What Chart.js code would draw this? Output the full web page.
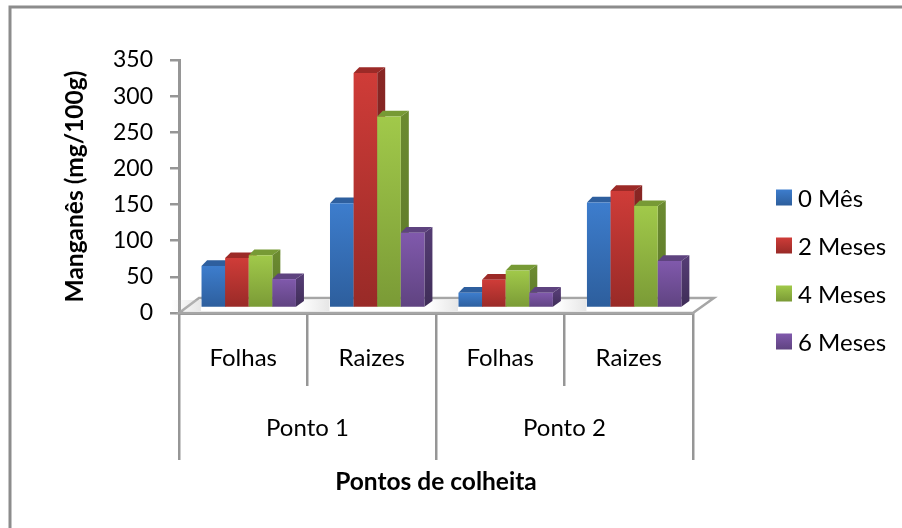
<!DOCTYPE html>
<html><head><meta charset="utf-8">
<style>html,body{margin:0;padding:0;background:#fff}#w{width:902px;height:528px;position:relative}canvas{display:block}</style>
<script src="https://cdn.jsdelivr.net/npm/chart.js@4"></script>
</head><body><div id="w"><canvas id="c" width="902" height="528"></canvas></div>
<script>
const categories = ['Folhas','Raizes','Folhas','Raizes'];
const groups = ['Ponto 1','Ponto 2'];
const yTicks = [0,50,100,150,200,250,300,350];
const seriesNames = ['0 Mês','2 Meses','4 Meses','6 Meses'];
const mes0 = [58,145,21,146];
const mes2 = [69,325,39,162];
const mes4 = [73,265,52,141];
const mes6 = [40,104,21,65];
const palette = [
 {hi:'#3D7DCD',lo:'#2D5E9C',top:'#2E5F9E',sideHi:'#2A5688',sideLo:'#234870'},
 {hi:'#CF3C38',lo:'#982A27',top:'#9C2A27',sideHi:'#882624',sideLo:'#76201E'},
 {hi:'#A1C94A',lo:'#7A9A36',top:'#779A35',sideHi:'#6B8A30',sideLo:'#5C772A'},
 {hi:'#8059AC',lo:'#5F4380',top:'#5E437F',sideHi:'#533B72',sideLo:'#3F2D58'}
];
const FONT='Lato, "Noto Sans", sans-serif', GRAY='#969696';
const ctx0=document.getElementById('c').getContext('2d');
function vgrad(c,y0,y1,a,b){const g=c.createLinearGradient(0,y0,0,y1);g.addColorStop(0,a);g.addColorStop(1,b);return g;}
const LEG_DY=-7, LEG_X=776, LEG_PAD=24;
const scene={
 id:'scene',
 afterLayout(chart){
  const l=chart.legend; if(l){l.top+=LEG_DY;l.bottom+=LEG_DY;l.left=LEG_X-LEG_PAD;l.right=902;l.width=902-l.left;}
 },
 beforeDraw(chart){
  const c=chart.ctx;
  c.save();c.fillStyle='#fff';c.fillRect(0,0,902,528);
  c.strokeStyle='#8c8c8c';c.lineWidth=3;
  c.beginPath();c.moveTo(10,528);c.lineTo(10,7);c.lineTo(902,7);c.stroke();
  c.restore();
 },
 afterDraw(chart){
  const c=chart.ctx,l=chart.legend;
  c.save();
  l.legendHitBoxes.forEach((h,i)=>{
    const t=h.top+LEG_DY+(h.height-16)/2+5;
    c.fillStyle=vgrad(c,t,t+16,palette[i].hi,palette[i].lo);
    c.fillRect(LEG_X,t,16,16);
  });
  c.restore();
 },
 beforeDatasetsDraw(chart){
  const c=chart.ctx,a=chart.chartArea,y0=chart.scales.y.getPixelForValue(0);
  c.save();
  c.fillStyle='#fff';c.strokeStyle='#A6A6A6';c.lineWidth=2.5;
  c.beginPath();c.moveTo(a.left,y0);c.lineTo(a.left+20,y0-15);c.lineTo(a.right+21,y0-15);c.lineTo(a.right,y0);
  c.closePath();c.fill();c.stroke();
  chart.getDatasetMeta(0).data.forEach(el=>{
    const l=el.x-el.width/2+5;
    const g=c.createLinearGradient(l-30,0,l,0);g.addColorStop(0,'rgba(200,200,200,0)');g.addColorStop(1,'rgba(200,200,200,.45)');
    c.fillStyle=g;c.fillRect(l-30,y0-13,30,11);
  });
  c.translate(5.5,-5);
  chart.getSortedVisibleDatasetMetas().forEach((m,i)=>{
    const p=palette[i];
    m.data.forEach(el=>{
      const l=el.x-el.width/2,r=el.x+el.width/2,t=el.y,b=el.base,dx=8,dy=5.7;
      c.fillStyle=p.top;
      c.beginPath();c.moveTo(l,t);c.lineTo(l+dx*.7,t-dy);c.lineTo(r+dx,t-dy);c.lineTo(r,t);c.closePath();c.fill();
      c.fillStyle=vgrad(c,t,b,p.sideHi,p.sideLo);
      c.beginPath();c.moveTo(r,t);c.lineTo(r+dx,t-dy);c.lineTo(r+dx,b-dy);c.lineTo(r,b);c.closePath();c.fill();
      el.draw(c,a);
    });
  });
  c.restore();
  return false;
 }
};
function ds(name,data,i){
 return {label:name,data,borderWidth:0,categoryPercentage:0.735,barPercentage:1,
  backgroundColor(ctx){
   const ch=ctx.chart,p=palette[i];
   if(ctx.type!=='data'||!ch.scales.y) return p.hi;
   return vgrad(ch.ctx,ch.scales.y.getPixelForValue(ctx.parsed?ctx.parsed.y:ctx.raw),ch.scales.y.getPixelForValue(0),p.hi,p.lo);
  }};
}
new Chart(ctx0,{
 type:'bar',
 data:{labels:categories,datasets:[ds(seriesNames[0],mes0,0),ds(seriesNames[1],mes2,1),ds(seriesNames[2],mes4,2),ds(seriesNames[3],mes6,3)]},
 plugins:[scene],
 options:{
  responsive:false,animation:false,
  layout:{padding:{left:60,top:60,right:65,bottom:31}},
  plugins:{
   tooltip:{enabled:false},
   legend:{display:true,position:'right',
    labels:{boxWidth:10,boxHeight:16,padding:LEG_PAD,color:'#000',font:{family:FONT,size:24},
     generateLabels(chart){
      return chart.data.datasets.map((d,i)=>({text:d.label,datasetIndex:i,lineWidth:0,strokeStyle:'rgba(0,0,0,0)',fontColor:'#000',fillStyle:'rgba(0,0,0,0)'}));
     }}}
  },
  scales:{
   x:{type:'category',position:'bottom',offset:true,
    grid:{offset:true,drawOnChartArea:false,drawTicks:true,tickLength:73,color:GRAY,lineWidth:2.5},
    border:{display:true,color:GRAY,width:3},
    ticks:{padding:-42,maxRotation:0,autoSkip:false,color:'#000',font:{family:FONT,size:24}},
    afterFit(s){s.height=73;}
   },
   x2:{type:'category',position:'bottom',labels:groups,offset:true,
    grid:{offset:true,drawOnChartArea:false,drawTicks:true,tickLength:74,color:GRAY,lineWidth:2.5},
    border:{display:false},
    ticks:{padding:-46,maxRotation:0,autoSkip:false,color:'#000',font:{family:FONT,size:24}},
    title:{display:true,text:'Pontos de colheita',color:'#000',font:{family:FONT,size:24.5,weight:'bold'},padding:0},
    afterFit(s){s.height=111;}
   },
   y:{min:0,max:350,position:'left',
    afterBuildTicks(s){s.ticks=yTicks.map(v=>({value:v}));},
    grid:{drawOnChartArea:false,drawTicks:true,tickLength:9,color:GRAY,lineWidth:2.5},
    border:{display:true,color:GRAY,width:3},
    ticks:{padding:17,color:'#000',font:{family:FONT,size:23}},
    title:{display:true,text:'Manganês (mg/100g)',color:'#000',font:{family:FONT,size:24.5,weight:'bold'},padding:0},
    afterFit(s){s.width=119;}
   }
  }
 }
});
</script></body></html>
